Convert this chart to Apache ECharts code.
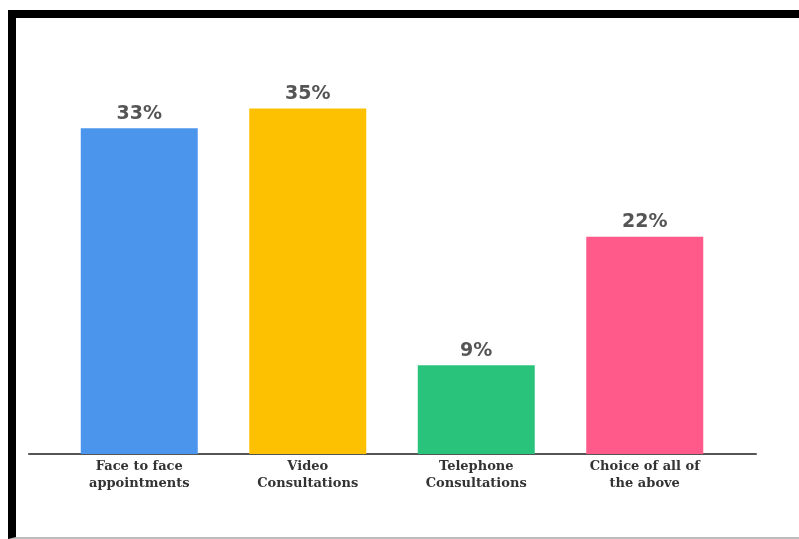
<!DOCTYPE html>
<html>
<head>
<meta charset="utf-8">
<script src="https://cdn.jsdelivr.net/npm/echarts@6/dist/echarts.min.js"></script>
<style>
  html, body { margin: 0; padding: 0; background: #fff; }
  #wrap { position: relative; width: 799px; height: 539px; overflow: hidden; }
  #chart { position: absolute; left: 0; top: 0; width: 799px; height: 539px; }
  #frame { position: absolute; left: 8px; top: 10px; width: 800px; height: 529px;
           border-top: 8px solid #000; border-left: 8px solid #000; border-bottom: 2px solid #bdbdbd;
           pointer-events: none; box-sizing: border-box; }
</style>
</head>
<body>
<div id="wrap">
  <div id="chart"></div>
  <div id="frame"></div>
</div>
<script>
const categories = ['Face to face\nappointments', 'Video\nConsultations', 'Telephone\nConsultations', 'Choice of all of\nthe above'];
const values = [33, 35, 9, 22];
const barColors = ['#4b96ec', '#fdc101', '#29c37c', '#ff5a8a'];

const chart = echarts.init(document.getElementById('chart'), null, { renderer: 'canvas' });
chart.setOption({
  backgroundColor: 'transparent',
  animation: false,
  grid: [
    { left: 55, right: 70, top: 59, bottom: 85 },
    { left: 29, right: 43, top: 59, bottom: 85 }
  ],
  xAxis: [
    {
      type: 'category', gridIndex: 0, data: categories,
      axisLine: { show: false }, axisTick: { show: false },
      axisLabel: {
        interval: 0, margin: 4, color: '#333', fontFamily: 'DejaVu Serif',
        fontWeight: 'bold', fontSize: 13, lineHeight: 17
      }
    },
    {
      type: 'category', gridIndex: 1, data: [''],
      axisLine: { show: true, lineStyle: { color: '#555', width: 2 } },
      axisTick: { show: false }, axisLabel: { show: false }
    }
  ],
  yAxis: [
    { type: 'value', gridIndex: 0, min: 0, max: 40, show: false },
    { type: 'value', gridIndex: 1, min: 0, max: 40, show: false }
  ],
  series: [{
    type: 'bar', xAxisIndex: 0, yAxisIndex: 0,
    barWidth: 117,
    data: values.map((v, i) => ({ value: v, itemStyle: { color: barColors[i] } })),
    label: {
      show: true, position: 'top', distance: 5,
      formatter: p => p.value + '%',
      color: '#555', fontFamily: 'DejaVu Sans', fontWeight: 'bold', fontSize: 19
    }
  }]
});
</script>
</body>
</html>
